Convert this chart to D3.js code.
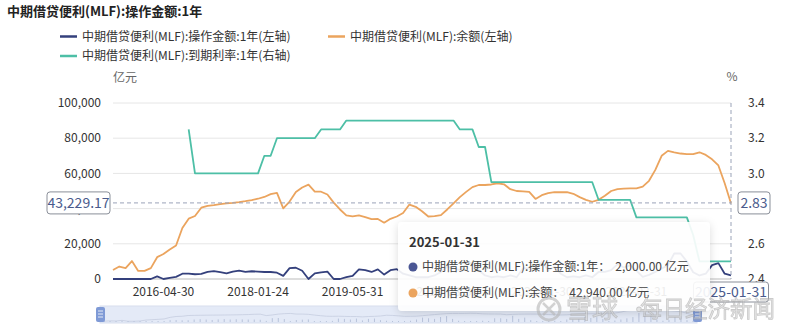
<!DOCTYPE html>
<html><head><meta charset="utf-8">
<script src="https://cdn.jsdelivr.net/npm/d3@7"></script>
<style>
body{margin:0;background:#fff;}
svg{display:block;font-family:"Noto Sans CJK SC","Microsoft YaHei",sans-serif;}
</style>
</head><body>
<svg id="c" width="800" height="334"></svg>
<script>
const chartTitle = "中期借贷便利(MLF):操作金额:1年";
const seriesNames = ["中期借贷便利(MLF):操作金额:1年(左轴)", "中期借贷便利(MLF):余额(左轴)", "中期借贷便利(MLF):到期利率:1年(右轴)"];
const seriesColors = ["#34407c", "#eba45e", "#4dbfa6"];
const dates = [
"2014-09-30","2014-10-31","2014-11-30","2014-12-31","2015-03-31","2015-06-30","2015-09-30","2015-12-31",
"2016-04-30","2016-05-31","2016-06-30","2016-07-31","2016-08-31","2016-09-30","2016-10-31","2016-11-30","2016-12-31",
"2017-02-28","2017-03-31","2017-05-31","2017-07-31","2017-09-30","2017-11-30",
"2018-01-24","2018-02-28","2018-03-31","2018-04-17","2018-05-31","2018-06-30","2018-07-31","2018-08-31","2018-09-30","2018-10-31","2018-11-30","2018-12-31",
"2019-01-31","2019-02-28","2019-04-30","2019-05-31","2019-06-30","2019-07-31","2019-08-31","2019-09-30","2019-10-31","2019-11-30","2019-12-31",
"2020-01-31","2020-02-29","2020-03-31","2020-04-30","2020-05-31","2020-06-30","2020-07-31","2020-08-31","2020-09-30","2020-10-31","2020-11-30","2020-12-31",
"2021-01-31","2021-02-28","2021-03-31","2021-04-30","2021-05-31","2021-06-30","2021-07-31","2021-08-31","2021-09-30","2021-10-31","2021-11-30","2021-12-31",
"2022-01-31","2022-02-28","2022-03-31","2022-04-30","2022-05-31","2022-06-30","2022-07-31","2022-08-31","2022-09-30","2022-10-31","2022-11-30","2022-12-31",
"2023-01-31","2023-03-31","2023-05-31","2023-06-30","2023-08-31","2023-09-30","2023-10-31","2023-11-30","2023-12-31",
"2024-01-31","2024-03-31","2024-07-31","2024-09-30","2024-10-31","2024-11-30","2024-12-31","2025-01-31"
];
// 操作金额:1年 (亿元)
const amount = [
0,0,0,0,0,0,0,1500,
0,700,1200,3000,3100,2700,2900,4000,4500,
3950,3250,4200,4700,4000,4400,
4200,3980,3980,3580,1800,6200,6400,4700,0,3200,3800,4150,
0,0,1000,1800,5500,5000,4000,5500,2500,5000,5600,
3000,2000,1000,1000,1000,2000,4000,7000,6000,5000,8000,9500,
5000,2000,1000,1500,1000,2000,1000,6000,6000,5000,10000,5000,
7000,3000,1000,1500,1000,2000,1000,4000,4000,5000,8500,6500,
7790,4810,1250,2370,4010,5910,7890,14500,14500,
9950,3870,2000,3000,7890,9000,3000,2000
];
// 余额 (亿元)
const balance = [
5100,7100,6200,10200,4600,4600,6200,12400,
14200,16700,19000,29000,34300,35800,40500,41600,42000,
42500,43000,43300,43700,44200,44800,
45600,46600,48200,48900,40170,44000,49400,52000,53600,49600,49600,48000,
43400,39500,36200,35600,36200,35200,34000,34100,32000,34200,35500,
37500,42300,41000,38500,35500,35700,36300,39500,43000,46500,49500,52200,
53400,53400,53700,54400,53800,51000,50000,49800,49500,45500,47600,48800,
49300,49300,49300,48400,46500,45000,43900,45000,47300,50000,51100,51400,
51530,51530,52500,55800,62000,70000,72800,72000,71300,
71000,71000,72000,70500,68000,64500,54400,42940
];
// 到期利率:1年 (%)
const rate = [
null,null,null,null,null,null,null,null,
null,null,null,null,3.25,3.00,3.00,3.00,3.00,
3.00,3.00,3.00,3.00,3.00,3.00,
3.00,3.10,3.10,3.20,3.20,3.20,3.20,3.20,3.20,3.20,3.25,3.25,
3.25,3.25,3.30,3.30,3.30,3.30,3.30,3.30,3.30,3.30,3.30,
3.30,3.30,3.30,3.30,3.30,3.30,3.30,3.30,3.30,3.25,3.25,3.25,
3.15,3.15,2.95,2.95,2.95,2.95,2.95,2.95,2.95,2.95,2.95,2.95,
2.95,2.95,2.95,2.95,2.95,2.95,2.95,2.85,2.85,2.85,2.85,2.85,
2.85,2.75,2.75,2.75,2.75,2.75,2.75,2.75,2.75,
2.75,2.65,2.50,2.50,2.50,2.50,2.50,2.50
];
const leftTicks = [0, 20000, 40000, 60000, 80000, 100000];
const rightTicks = [2.4, 2.6, 2.8, 3.0, 3.2, 3.4];
const labelEvery = 15;
const pointerLeft = 43229.17, pointerRight = 2.83;
const tooltipDate = "2025-01-31";
const tooltipRows = [["中期借贷便利(MLF):操作金额:1年：", "2,000.00 亿元"], ["中期借贷便利(MLF):余额：", "42,940.00 亿元"]];

const svg = d3.select("#c");
const X0 = 113, X1 = 731, Y0 = 279, Y1 = 103;
const x = d3.scalePoint().domain(dates).range([X0, X1]);
const yL = d3.scaleLinear().domain([0, 100000]).range([Y0, Y1]);
const yR = d3.scaleLinear().domain([2.4, 3.4]).range([Y0, Y1]);

// title
svg.append("text").attr("x", 7).attr("y", 16).attr("font-size", 13).attr("font-weight", "bold").attr("fill", "#222").text(chartTitle);

// legend
const legendPos = [[60, 36.5], [328, 36.5], [60, 56]];
seriesNames.forEach((n, i) => {
  const [lx, ly] = legendPos[i];
  svg.append("line").attr("x1", lx).attr("x2", lx + 17).attr("y1", ly).attr("y2", ly).attr("stroke", seriesColors[i]).attr("stroke-width", 2.5);
  svg.append("text").attr("x", lx + 22).attr("y", ly).attr("dy", "0.35em").attr("font-size", 12).attr("fill", "#333").text(n);
});

// unit names
svg.append("text").attr("x", 113).attr("y", 78).attr("dy", "0.35em").attr("font-size", 12).attr("fill", "#666").text("亿元");
svg.append("text").attr("x", 732).attr("y", 77).attr("dy", "0.35em").attr("text-anchor", "middle").attr("font-size", 12).attr("fill", "#666").text("%");

// grid
svg.append("g").selectAll("line").data(leftTicks).join("line")
  .attr("x1", X0).attr("x2", X1).attr("y1", d => yL(d)).attr("y2", d => yL(d))
  .attr("stroke", d => d === 0 ? "#bbb" : "#e6e6e6").attr("stroke-width", 1);

// left axis labels
const fmt = d3.format(",");
svg.append("g").selectAll("text").data(leftTicks).join("text")
  .attr("x", 101).attr("y", d => yL(d)).attr("dy", "0.35em").attr("text-anchor", "end")
  .attr("font-size", 12).attr("fill", "#333").text(d => fmt(d));
// right axis labels
svg.append("g").selectAll("text").data(rightTicks).join("text")
  .attr("x", 748).attr("y", d => yR(d)).attr("dy", "0.35em").attr("text-anchor", "start")
  .attr("font-size", 12).attr("fill", "#333").text(d => d.toFixed(1));

// x labels
const xLabelIdx = dates.map((d, i) => i).filter(i => (dates.length - 1 - i) % labelEvery === 0);
svg.append("g").selectAll("text").data(xLabelIdx).join("text")
  .attr("x", i => x(dates[i])).attr("y", 292).attr("dy", "0.35em").attr("text-anchor", "middle")
  .attr("font-size", 12).attr("fill", "#333").text(i => dates[i]);

// lines
const lineL = d3.line().x((d, i) => x(dates[i])).y(d => yL(d));
const lineR = d3.line().defined(d => d !== null).x((d, i) => x(dates[i])).y(d => yR(d));
svg.append("path").attr("d", lineL(amount)).attr("fill", "none").attr("stroke", seriesColors[0]).attr("stroke-width", 1.8).attr("stroke-linejoin", "round");
svg.append("path").attr("d", lineL(balance)).attr("fill", "none").attr("stroke", seriesColors[1]).attr("stroke-width", 1.8).attr("stroke-linejoin", "round");
svg.append("path").attr("d", lineR(rate)).attr("fill", "none").attr("stroke", seriesColors[2]).attr("stroke-width", 1.8).attr("stroke-linejoin", "round");

// crosshair
const py = yL(pointerLeft);
const px = x(tooltipDate);
svg.append("line").attr("x1", X0).attr("x2", X1).attr("y1", py).attr("y2", py).attr("stroke", "#9aa3b8").attr("stroke-dasharray", "4,3");
svg.append("line").attr("x1", px).attr("x2", px).attr("y1", Y1).attr("y2", Y0).attr("stroke", "#9aa3b8").attr("stroke-dasharray", "4,3");

function boxLabel(cx, cy, txt, w, h, anchor) {
  const g = svg.append("g");
  let bx = anchor === "end" ? cx - w : (anchor === "start" ? cx : cx - w / 2);
  g.append("rect").attr("x", bx).attr("y", cy - h / 2).attr("width", w).attr("height", h).attr("rx", 3)
    .attr("fill", "#fff").attr("stroke", "#8a8f99").attr("stroke-width", 1);
  g.append("text").attr("x", bx + w / 2).attr("y", cy).attr("dy", "0.36em").attr("text-anchor", "middle")
    .attr("font-size", 14).attr("fill", "#4a5b8c").text(txt);
}
boxLabel(110, py, d3.format(",.2f")(pointerLeft), 63, 22, "end");
boxLabel(738, py, pointerRight.toFixed(2), 32, 22, "start");
boxLabel(px, 292, tooltipDate, 75, 20, "middle");

// data zoom slider
const sl = svg.append("g");
sl.append("rect").attr("x", 100).attr("y", 306).attr("width", 597).attr("height", 17).attr("fill", "#e4eaf7").attr("stroke", "#d7deed");
const xs = d3.scalePoint().domain(dates).range([104, 693]);
const ys = d3.scaleLinear().domain([0, 100000]).range([322, 306]);
sl.append("path").attr("d", d3.line().x((d, i) => xs(dates[i])).y(d => ys(d))(balance)).attr("fill", "none").attr("stroke", "#c5cde0").attr("stroke-width", 0.8);
sl.append("g").selectAll("line").data(amount).join("line")
  .attr("x1", (d, i) => xs(dates[i])).attr("x2", (d, i) => xs(dates[i]))
  .attr("y1", 322).attr("y2", d => 322 - Math.max(1, d / 14500 * 9)).attr("stroke", "#b8c3da").attr("stroke-width", 1);
[100, 697].forEach(hx => {
  sl.append("rect").attr("x", hx - 4).attr("y", 307).attr("width", 9).attr("height", 15).attr("rx", 2).attr("fill", "#7f9ad6");
  [311, 314, 317].forEach(ly => sl.append("line").attr("x1", hx - 2).attr("x2", hx + 3).attr("y1", ly).attr("y2", ly).attr("stroke", "#fff").attr("stroke-width", 0.8));
});

// tooltip
const defs = svg.append("defs");
const f = defs.append("filter").attr("id", "sh").attr("x", "-10%").attr("y", "-20%").attr("width", "120%").attr("height", "150%");
f.append("feDropShadow").attr("dx", 0).attr("dy", 2).attr("stdDeviation", 4).attr("flood-color", "#000").attr("flood-opacity", 0.15);
const tt = svg.append("g");
tt.append("rect").attr("x", 398).attr("y", 222).attr("width", 312).attr("height", 89).attr("rx", 4)
  .attr("fill", "rgba(255,255,255,0.9)").attr("filter", "url(#sh)");
tt.append("text").attr("x", 409).attr("y", 242).attr("dy", "0.35em").attr("font-size", 13).attr("font-weight", "bold").attr("fill", "#333").text(tooltipDate);
const dotColors = ["#4a5694", "#eba45e"];
tooltipRows.forEach((r, i) => {
  const ry = 267 + i * 26;
  tt.append("circle").attr("cx", 413).attr("cy", ry).attr("r", 4.5).attr("fill", dotColors[i]);
  const t = tt.append("text").attr("x", 422).attr("y", ry).attr("dy", "0.35em").attr("font-size", 12).attr("fill", "#444");
  t.append("tspan").text(r[0]);
  t.append("tspan").attr("dx", 5).text(r[1]);
});

// watermark
const wm = svg.append("g").attr("opacity", 0.6);
wm.append("circle").attr("cx", 549).attr("cy", 309).attr("r", 11).attr("fill", "none").attr("stroke", "#b5b5b5").attr("stroke-width", 3);
wm.append("path").attr("d", "M543,303 L555,315 M555,303 L543,315").attr("stroke", "#b5b5b5").attr("stroke-width", 2.5).attr("fill", "none");
wm.append("text").attr("x", 566).attr("y", 309).attr("dy", "0.36em").attr("font-size", 26).attr("fill", "#d6d6d6").attr("stroke", "#a8a8a8").attr("stroke-width", 0.8).text("雪球");
wm.append("text").attr("x", 628).attr("y", 309).attr("dy", "0.36em").attr("font-size", 22).attr("fill", "#d6d6d6").attr("stroke", "#a8a8a8").attr("stroke-width", 0.8).text("·");
wm.append("text").attr("x", 640).attr("y", 309).attr("dy", "0.36em").attr("font-size", 22.5).attr("fill", "#d6d6d6").attr("stroke", "#a8a8a8").attr("stroke-width", 0.8).text("每日经济新闻");
</script>
</body></html>
